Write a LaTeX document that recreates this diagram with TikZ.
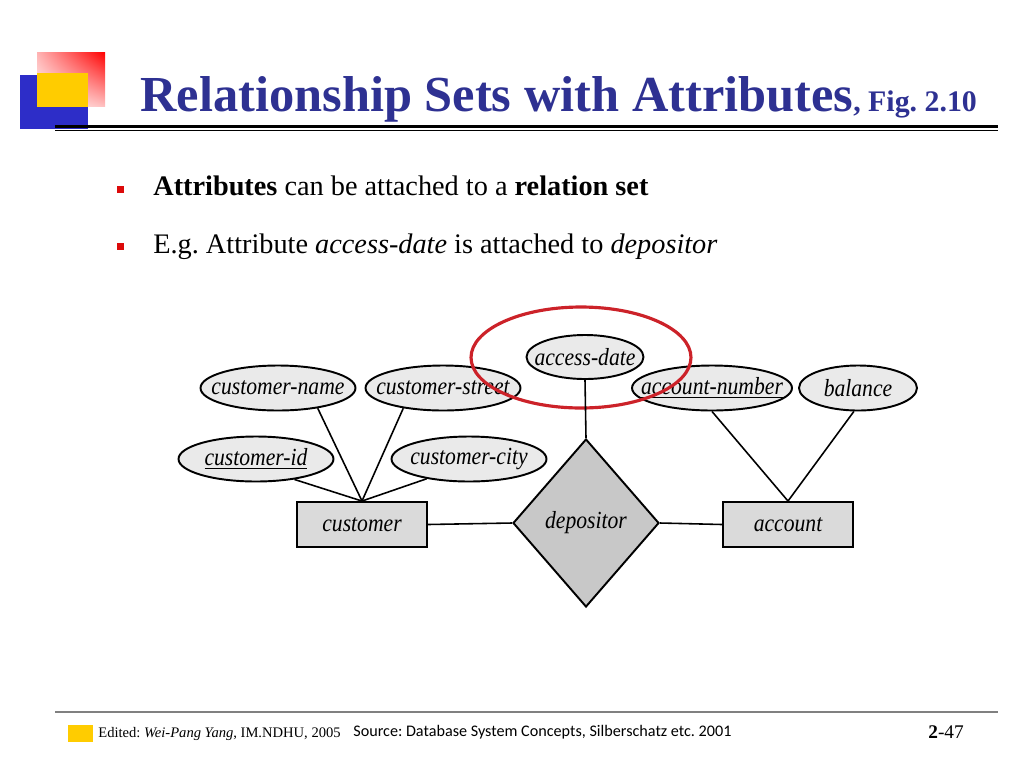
\documentclass[tikz,border=0pt]{standalone}
\usepackage{fontspec}
\setmainfont{Liberation Serif}
\newfontfamily\srcfont{Carlito}
\usetikzlibrary{shapes.geometric,shadings}
\definecolor{titleblue}{RGB}{46,49,146}
\definecolor{logoblue}{RGB}{45,45,200}
\definecolor{logoyellow}{RGB}{255,204,0}
\definecolor{hlred}{RGB}{204,34,41}
\definecolor{bulletred}{RGB}{220,10,10}
\definecolor{attrfill}{RGB}{234,234,234}
\definecolor{entfill}{RGB}{218,218,218}
\definecolor{relfill}{RGB}{200,200,200}
\newcommand{\erlabel}[1]{\makebox[0pt][c]{\fontsize{14}{16}\selectfont\itshape\scalebox{0.88}[1]{#1}}}
\tikzset{
  attr/.style={ellipse, draw, line width=1.1pt, fill=attrfill, inner sep=0pt,
               minimum width=3.1cm, minimum height=0.9cm},
  entity/.style={rectangle, draw, line width=1.1pt, fill=entfill, inner sep=0pt,
               minimum width=2.6cm, minimum height=0.9cm},
  rel/.style={diamond, draw, line width=1.1pt, fill=relfill, inner sep=0pt,
               minimum width=2.92cm, minimum height=3.36cm},
  conn/.style={line width=0.9pt},
  txt/.style={anchor=base west, inner sep=0pt},
  bullet/.style={fill=bulletred, draw=none, inner sep=0pt, minimum size=0.14cm}
}
\frenchspacing
\begin{document}
\begin{tikzpicture}[x=0.02cm,y=-0.02cm]
\useasboundingbox (0,0) rectangle (1024,768);
% logo
\shade[upper left=red!30, upper right=red, lower left=white, lower right=red!25] (37,52) rectangle (105,106);
\fill[logoblue] (20,75) rectangle (88,129);
\fill[logoyellow] (37,73) rectangle (88,107);
% title
\node[txt, text=titleblue] (title) at (140,111)
  {\fontsize{28.7}{32}\selectfont\bfseries Relationship Sets with Attributes\fontsize{17}{20}\selectfont, Fig. 2.10};
\draw[line width=1.7pt] (55,126.5) -- (998,126.5);
\draw[line width=0.7pt] (55,130.5) -- (998,130.5);
% bullets
\node[bullet] (b1) at (120,189) {};
\node[bullet] (b2) at (120,246) {};
\node[txt] (l1) at (153,195) {\fontsize{16.1}{19}\selectfont\textbf{Attributes} can be attached to a \textbf{relation set}};
\node[txt] (l2) at (153,253) {\fontsize{16.1}{19}\selectfont E.g. Attribute \textit{access-date} is attached to \textit{depositor}};
% ER diagram
\node[attr] (cname) at (278,388) {\erlabel{customer-name}};
\node[attr] (cstreet) at (443,388) {\erlabel{customer-street}};
\node[attr] (cid) at (256,459) {\erlabel{\underline{customer-id}}};
\node[attr] (ccity) at (469,459) {\erlabel{customer-city}};
\node[attr, minimum width=2.34cm, minimum height=0.88cm] (adate) at (585,357) {\erlabel{access-date}};
\node[attr, minimum width=3.2cm] (accnum) at (712,388) {\erlabel{\underline{account-number}}};
\node[attr, minimum width=2.36cm] (bal) at (858,388) {\erlabel{balance}};
\node[entity] (cust) at (362,524.5) {\erlabel{customer}};
\node[entity] (acct) at (788,524.5) {\erlabel{account}};
\node[rel, aspect=0.87] (dep) at (586,523) {\erlabel{depositor}};
\node[draw=hlred, line width=1.8pt, ellipse, inner sep=0pt, minimum width=4.4cm, minimum height=2.02cm] (hl) at (581,357.5) {};
\draw[conn] (cname.-27) -- (cust.north);
\draw[conn] (cstreet.-153) -- (cust.north);
\draw[conn] (cid.-28) -- (cust.north);
\draw[conn] (ccity.-155) -- (cust.north);
\draw[conn] (adate.south) -- (dep.north);
\draw[conn] (accnum.south) -- (acct.north);
\draw[conn] (bal.-100) -- (acct.north);
\draw[conn] (cust.east) -- (dep.west);
\draw[conn] (dep.east) -- (acct.west);
% footer
\draw[gray, line width=0.9pt] (55,712) -- (998,712);
\fill[logoyellow] (68,725) rectangle (93,742);
\node[txt] (ed) at (98,737) {\fontsize{8.3}{10}\selectfont Edited: \textit{Wei-Pang Yang}, IM.NDHU, 2005};
\node[txt] (src) at (353,736) {\srcfont\fontsize{9.2}{11}\selectfont Source: Database System Concepts, Silberschatz etc. 2001};
\node[txt] (pg) at (928,738) {\fontsize{11}{13}\selectfont\textbf{2}-47};
\end{tikzpicture}
\end{document}
